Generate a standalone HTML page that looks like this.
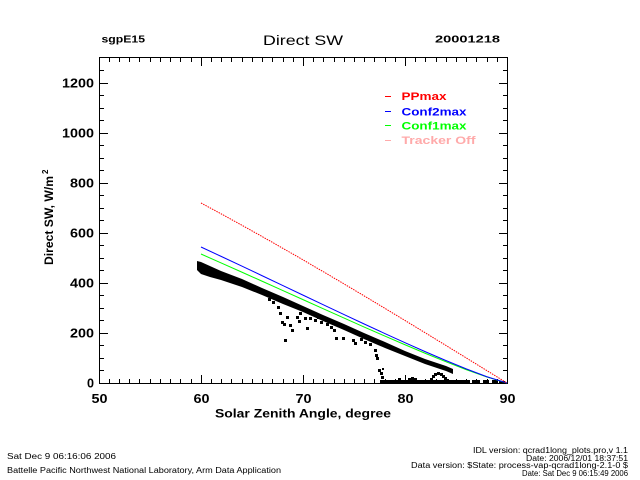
<!DOCTYPE html>
<html>
<head>
<meta charset="utf-8">
<style>
html,body{margin:0;padding:0;background:#fff;}
svg{display:block;}
text{font-family:"Liberation Sans",sans-serif;}
.b{font-weight:bold;}
</style>
</head>
<body>
<svg width="640" height="480" viewBox="0 0 640 480" xmlns="http://www.w3.org/2000/svg">
<rect x="0" y="0" width="640" height="480" fill="#fff"/>

<!-- Header -->
<text class="b" x="101.5" y="42.5" font-size="10.5" textLength="43.5" lengthAdjust="spacingAndGlyphs">sgpE15</text>
<text x="263" y="45" font-size="14" textLength="80" lengthAdjust="spacingAndGlyphs">Direct SW</text>
<text class="b" x="435" y="42.5" font-size="10.5" textLength="65" lengthAdjust="spacingAndGlyphs">20001218</text>

<!-- Axes box -->
<rect x="99.5" y="57.5" width="408" height="326" fill="none" stroke="#000" stroke-width="1"/>

<!-- X ticks -->
<path stroke="#000" stroke-width="1" fill="none" d="
M99.5 383V375 M201.5 383V375 M303.5 383V375 M405.5 383V375 M507.5 383V375
M99.5 58V66 M201.5 58V66 M303.5 58V66 M405.5 58V66 M507.5 58V66
M109.5 383V379 M119.5 383V379 M129.5 383V379 M139.5 383V379 M150.5 383V379 M160.5 383V379 M170.5 383V379 M180.5 383V379 M191.5 383V379
M211.5 383V379 M221.5 383V379 M231.5 383V379 M242.5 383V379 M252.5 383V379 M262.5 383V379 M272.5 383V379 M283.5 383V379 M293.5 383V379
M313.5 383V379 M323.5 383V379 M334.5 383V379 M344.5 383V379 M354.5 383V379 M364.5 383V379 M374.5 383V379 M385.5 383V379 M395.5 383V379
M415.5 383V379 M425.5 383V379 M436.5 383V379 M446.5 383V379 M456.5 383V379 M466.5 383V379 M476.5 383V379 M487.5 383V379 M497.5 383V379
M109.5 58V62 M119.5 58V62 M129.5 58V62 M139.5 58V62 M150.5 58V62 M160.5 58V62 M170.5 58V62 M180.5 58V62 M191.5 58V62
M211.5 58V62 M221.5 58V62 M231.5 58V62 M242.5 58V62 M252.5 58V62 M262.5 58V62 M272.5 58V62 M283.5 58V62 M293.5 58V62
M313.5 58V62 M323.5 58V62 M334.5 58V62 M344.5 58V62 M354.5 58V62 M364.5 58V62 M374.5 58V62 M385.5 58V62 M395.5 58V62
M415.5 58V62 M425.5 58V62 M436.5 58V62 M446.5 58V62 M456.5 58V62 M466.5 58V62 M476.5 58V62 M487.5 58V62 M497.5 58V62
"/>

<!-- Y ticks -->
<path stroke="#000" stroke-width="1" fill="none" d="
M99 383.5H108 M99 333.5H108 M99 283.5H108 M99 233.5H108 M99 183.5H108 M99 133.5H108 M99 83.5H108
M507 383.5H499 M507 333.5H499 M507 283.5H499 M507 233.5H499 M507 183.5H499 M507 133.5H499 M507 83.5H499
M99 370.5H104 M99 358.5H104 M99 345.5H104 M99 320.5H104 M99 308.5H104 M99 295.5H104
M99 270.5H104 M99 258.5H104 M99 245.5H104 M99 220.5H104 M99 208.5H104 M99 195.5H104
M99 170.5H104 M99 158.5H104 M99 145.5H104 M99 120.5H104 M99 108.5H104 M99 95.5H104 M99 70.5H104
M507 370.5H503 M507 358.5H503 M507 345.5H503 M507 320.5H503 M507 308.5H503 M507 295.5H503
M507 270.5H503 M507 258.5H503 M507 245.5H503 M507 220.5H503 M507 208.5H503 M507 195.5H503
M507 170.5H503 M507 158.5H503 M507 145.5H503 M507 120.5H503 M507 108.5H503 M507 95.5H503 M507 70.5H503
"/>

<!-- Y tick labels -->
<g class="b" font-size="12.5" text-anchor="end">
<text x="94" y="387.5" textLength="7" lengthAdjust="spacingAndGlyphs">0</text>
<text x="94" y="337.5" textLength="24" lengthAdjust="spacingAndGlyphs">200</text>
<text x="94" y="287.5" textLength="24" lengthAdjust="spacingAndGlyphs">400</text>
<text x="94" y="237.5" textLength="24" lengthAdjust="spacingAndGlyphs">600</text>
<text x="94" y="187.5" textLength="24" lengthAdjust="spacingAndGlyphs">800</text>
<text x="94" y="137.5" textLength="32" lengthAdjust="spacingAndGlyphs">1000</text>
<text x="94" y="87.5" textLength="32" lengthAdjust="spacingAndGlyphs">1200</text>
</g>

<!-- X tick labels -->
<g class="b" font-size="12.5" text-anchor="middle">
<text x="99.5" y="403" textLength="16" lengthAdjust="spacingAndGlyphs">50</text>
<text x="201.5" y="403" textLength="16" lengthAdjust="spacingAndGlyphs">60</text>
<text x="303.5" y="403" textLength="16" lengthAdjust="spacingAndGlyphs">70</text>
<text x="405.5" y="403" textLength="16" lengthAdjust="spacingAndGlyphs">80</text>
<text x="507.5" y="403" textLength="16" lengthAdjust="spacingAndGlyphs">90</text>
</g>

<!-- Axis titles -->
<text class="b" x="215" y="417.5" font-size="12" textLength="176" lengthAdjust="spacingAndGlyphs">Solar Zenith Angle, degree</text>
<text class="b" transform="translate(53,265) rotate(-90)" x="0" y="0" font-size="12" textLength="89" lengthAdjust="spacingAndGlyphs">Direct SW, W/m</text>
<text class="b" transform="translate(48,174) rotate(-90)" x="0" y="0" font-size="8">2</text>

<!-- Legend -->
<rect x="385" y="96" width="6" height="1" fill="#ff0000"/>
<rect x="385" y="111" width="6" height="1" fill="#0000ff"/>
<rect x="385" y="125" width="6" height="1" fill="#00ff00"/>
<rect x="385" y="140" width="6" height="1" fill="#ffaaaa"/>
<g class="b" font-size="11">
<text x="401.5" y="100" fill="#ff0000" textLength="45" lengthAdjust="spacingAndGlyphs">PPmax</text>
<text x="401.5" y="115.5" fill="#0000ff" textLength="65" lengthAdjust="spacingAndGlyphs">Conf2max</text>
<text x="401.5" y="129.5" fill="#00ff00" textLength="65" lengthAdjust="spacingAndGlyphs">Conf1max</text>
<text x="401.5" y="144" fill="#ffaaaa" textLength="74" lengthAdjust="spacingAndGlyphs">Tracker Off</text>
</g>

<!-- Black measured data: main band -->
<polygon fill="#000" points="197,261 201,262 221,271 242,279 262,288 283,297 303,306 323,315 344,324 364,333 385,342 405,351 425,359 446,366 453,369 453,374 446,371 425,364 405,356 385,348 364,339 344,330 323,321 303,312 283,304 262,295 242,287 221,280 210,277 201,274 197,270"/>

<!-- Scattered points -->
<g fill="#000">
<rect x="268" y="298" width="3" height="3"/>
<rect x="272" y="301" width="3" height="3"/>
<rect x="277" y="306" width="3" height="3"/>
<rect x="279" y="312" width="3" height="3"/>
<rect x="281" y="321" width="3" height="3"/>
<rect x="283" y="323" width="3" height="3"/>
<rect x="286" y="316" width="3" height="3"/>
<rect x="289" y="324" width="3" height="3"/>
<rect x="291" y="329" width="3" height="3"/>
<rect x="284" y="339" width="3" height="3"/>
<rect x="296" y="316" width="3" height="3"/>
<rect x="298" y="320" width="3" height="3"/>
<rect x="299" y="312" width="3" height="3"/>
<rect x="304" y="317" width="3" height="3"/>
<rect x="306" y="327" width="3" height="3"/>
<rect x="309" y="317" width="3" height="3"/>
<rect x="314" y="319" width="3" height="3"/>
<rect x="317" y="316" width="3" height="3"/>
<rect x="320" y="321" width="3" height="3"/>
<rect x="323" y="318" width="3" height="3"/>
<rect x="326" y="323" width="3" height="3"/>
<rect x="330" y="326" width="3" height="3"/>
<rect x="333" y="329" width="3" height="3"/>
<rect x="335" y="337" width="3" height="3"/>
<rect x="342" y="337" width="3" height="3"/>
<rect x="352" y="339" width="3" height="3"/>
<rect x="354" y="342" width="3" height="3"/>
<rect x="360" y="338" width="3" height="3"/>
<rect x="364" y="341" width="3" height="3"/>
<rect x="369" y="343" width="3" height="3"/>
<rect x="374" y="349" width="3" height="3"/>
<rect x="375" y="354" width="3" height="3"/>
<rect x="376" y="357" width="3" height="3"/>
<rect x="378" y="369" width="3" height="3"/>
<rect x="380" y="372" width="3" height="3"/>
<rect x="381" y="376" width="3" height="3"/>
<rect x="382" y="368" width="2" height="2"/>
<!-- near-zero baseline -->
<rect x="380" y="380" width="90" height="3"/>
<rect x="472" y="380" width="8" height="3"/>
<rect x="483" y="380" width="6" height="3"/>
<rect x="492" y="380" width="5" height="3"/>
<rect x="499" y="381" width="6" height="2"/>
<rect x="398" y="378" width="3" height="2"/>
<rect x="408" y="378" width="3" height="3"/>
<rect x="411" y="377" width="3" height="3"/>
<rect x="414" y="378" width="3" height="3"/>
<rect x="430" y="378" width="3" height="3"/>
<rect x="432" y="375" width="3" height="3"/>
<rect x="434" y="373" width="3" height="3"/>
<rect x="437" y="372" width="3" height="3"/>
<rect x="440" y="373" width="3" height="3"/>
<rect x="442" y="375" width="3" height="3"/>
<rect x="444" y="377" width="3" height="3"/>
<rect x="446" y="379" width="3" height="3"/>
</g>

<!-- Model lines -->
<polyline fill="none" stroke="#00ff00" stroke-width="1" points="201,254 221.4,263.02 241.8,272.11 262.2,281.26 282.6,290.45 303,299.64 323.4,308.83 343.8,317.96 364.2,327.03 384.6,335.97 405,344.77 425.4,353.36 445.8,361.68 466.2,369.61 486.6,376.96 507,383"/>
<polyline fill="none" stroke="#0000ff" stroke-width="1" points="201,247 221.4,256.51 241.8,266.09 262.2,275.74 282.6,285.43 303,295.12 323.4,304.8 343.8,314.43 364.2,323.99 384.6,333.42 405,342.7 425.4,351.75 445.8,360.52 466.2,368.88 486.6,376.63 507,383"/>
<polyline fill="none" stroke="#ff0000" stroke-width="1" stroke-dasharray="1.5 1" points="201,203 221.4,213.99 241.8,225.19 262.2,236.58 282.6,248.14 303,259.87 323.4,271.75 343.8,283.77 364.2,295.91 384.6,308.15 405,320.49 425.4,332.9 445.8,345.37 466.2,357.89 486.6,370.44 507,383"/>

<!-- Footer -->
<g font-size="8" fill="#000">
<text x="7" y="459" textLength="109" lengthAdjust="spacingAndGlyphs">Sat Dec 9 06:16:06 2006</text>
<text x="7" y="473" textLength="274" lengthAdjust="spacingAndGlyphs">Battelle Pacific Northwest National Laboratory, Arm Data Application</text>
</g>
<g font-size="8" fill="#000" text-anchor="end">
<text x="628" y="453" textLength="155" lengthAdjust="spacingAndGlyphs">IDL version: qcrad1long_plots.pro,v 1.1</text>
<text x="628" y="461" textLength="102" lengthAdjust="spacingAndGlyphs">Date: 2006/12/01 18:37:51</text>
<text x="628" y="468" textLength="217" lengthAdjust="spacingAndGlyphs">Data version: $State: process-vap-qcrad1long-2.1-0 $</text>
<text x="628" y="476" textLength="106" lengthAdjust="spacingAndGlyphs">Date: Sat Dec 9 06:15:49 2006</text>
</g>
</svg>
</body>
</html>
